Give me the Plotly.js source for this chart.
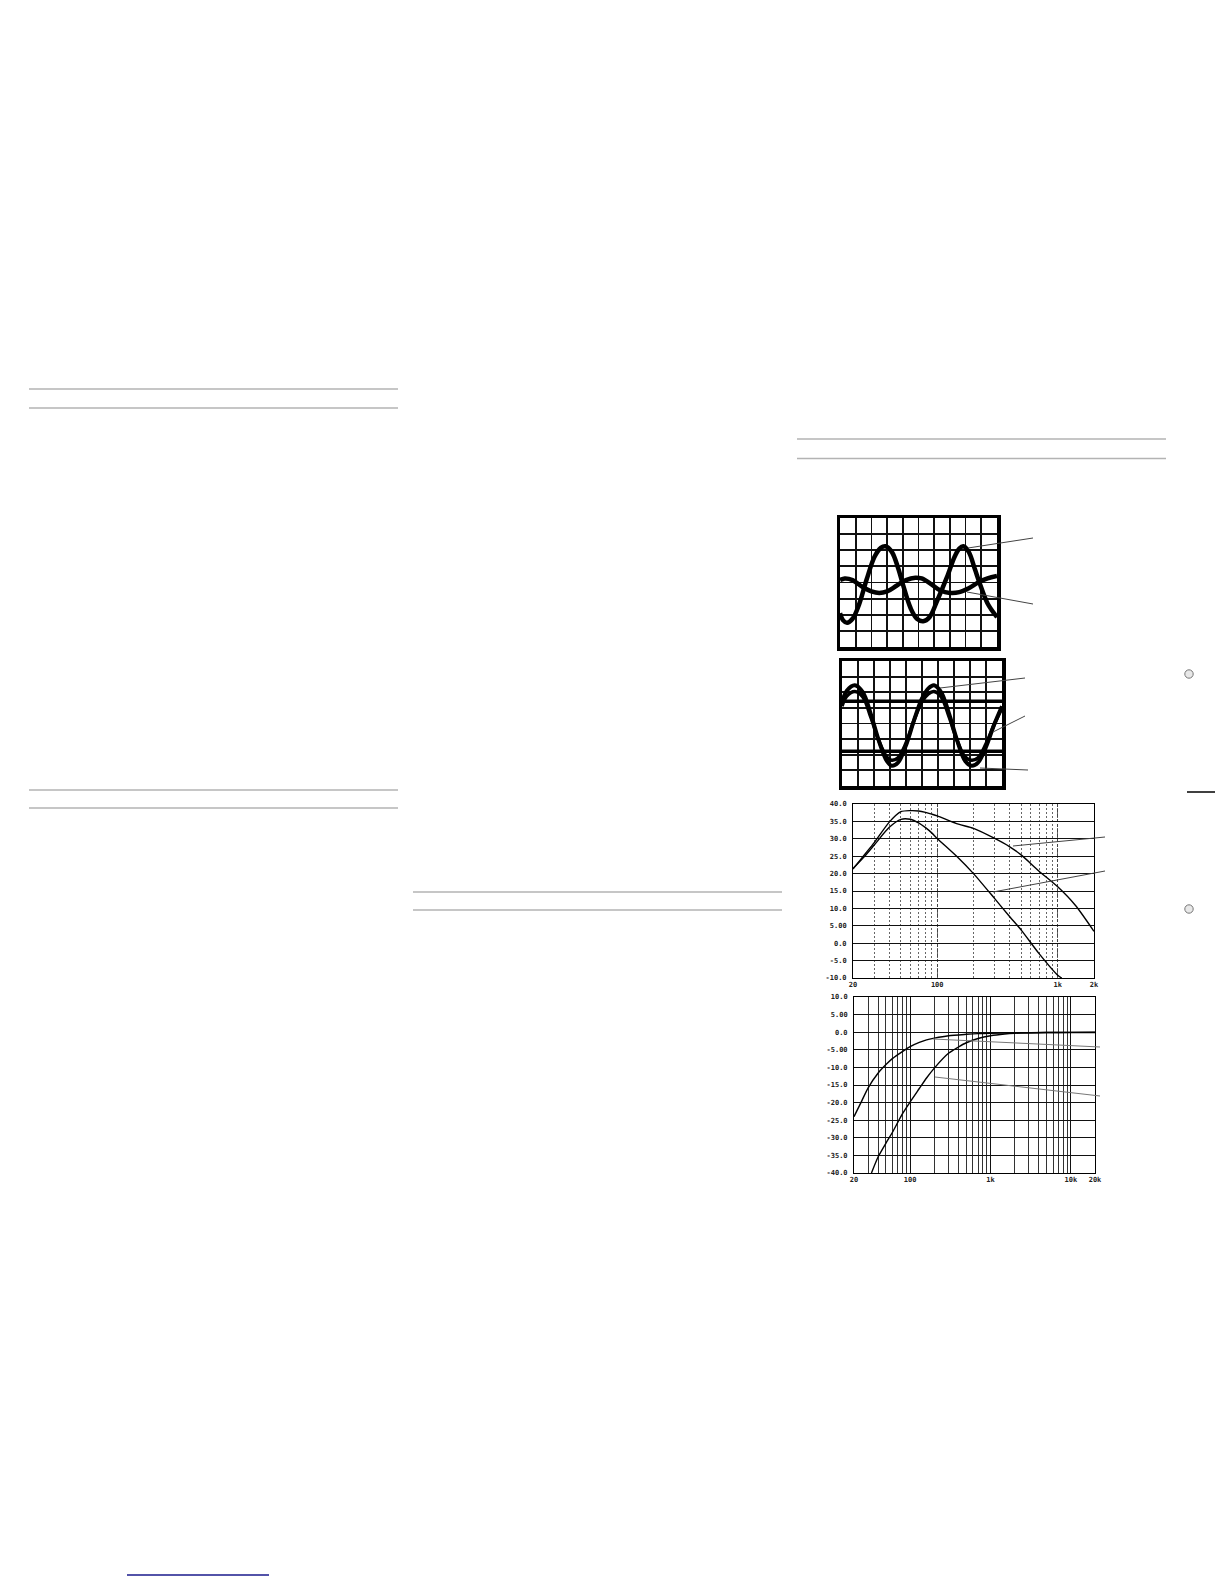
<!DOCTYPE html>
<html>
<head>
<meta charset="utf-8">
<script src="https://cdn.plot.ly/plotly-3.0.1.min.js"></script>
<style>html,body{margin:0;padding:0;background:#fff}#chart{width:1224px;height:1584px}</style>
</head>
<body>
<div id="chart"></div>
<script>
// ---------- Oscilloscope 1 (divisions) ----------
const osc1X = [0,0.2,0.45,0.8,1.2,1.7,2.2,2.6,2.9,3.3,3.7,4.0,4.5,4.9,5.3,5.7,6.2,6.8,7.3,7.6,7.85,8.2,8.6,8.9,9.4,10];
const osc1Big = [2.1,1.65,1.5,1.75,2.6,4.2,5.6,6.15,6.25,5.9,4.9,3.9,2.4,1.75,1.6,1.85,2.9,4.3,5.6,6.1,6.25,5.9,4.8,3.95,2.7,1.85];
const osc1SmallX = [0,0.3,0.8,1.4,2.0,2.5,3.0,3.6,4.2,4.8,5.2,5.8,6.4,7.0,7.6,8.2,8.8,9.4,10];
const osc1Small = [4.15,4.25,4.15,3.75,3.45,3.35,3.45,3.8,4.15,4.3,4.25,3.9,3.5,3.35,3.4,3.65,4.0,4.25,4.4];

// ---------- Oscilloscope 2 (divisions) ----------
const osc2X = [0,0.3,0.8,1.3,1.8,2.3,2.8,3.1,3.5,4.0,4.5,5.0,5.4,5.75,6.2,6.7,7.2,7.7,8.1,8.5,9.0,9.5,10];
const osc2A = [5.35,6.1,6.45,6.0,4.6,2.9,1.6,1.3,1.5,2.6,4.2,5.6,6.25,6.45,6.0,4.6,2.9,1.6,1.3,1.5,2.5,3.9,5.1];
const osc2B = [5.1,5.75,6.05,5.7,4.4,2.9,1.85,1.65,1.8,2.75,4.2,5.4,5.9,6.05,5.7,4.4,2.9,1.85,1.65,1.8,2.7,3.9,5.0];
const osc2LevelX = [0,10];
const osc2High = [5.42,5.42];
const osc2Low = [2.23,2.23];

// ---------- Frequency response 1 (Hz, dB) ----------
const fr1FreqU = [20,25,30,40,50,60,70,80,90,100,150,200,300,400,500,700,1000,1400,2000];
const fr1Upper = [21.3,25.5,28.9,34.8,37.8,38.1,38.0,37.6,37.1,36.6,34.2,33.0,30.1,27.7,25.3,20.7,16.2,10.9,3.4];
const fr1FreqL = [20,25,30,40,50,60,70,80,90,100,150,200,300,400,500,700,1000,1080];
const fr1Lower = [21.5,25.0,28.2,33.3,35.6,35.6,34.6,33.2,31.7,30.1,24.5,20.0,12.8,7.6,3.7,-3.0,-9.2,-10.0];
const fr1YTicks = [40,35,30,25,20,15,10,5,0,-5,-10];
const fr1YText = ["40.0","35.0","30.0","25.0","20.0","15.0","10.0","5.00","0.0","-5.0","-10.0"];
const fr1XTicks = [20,100,1000,2000];
const fr1XText = ["20","100","1k","2k"];

// ---------- Frequency response 2 (Hz, dB) ----------
const fr2FreqA = [20,25,30,40,50,60,80,100,130,160,200,300,500,700,1000,2000,5000,10000,20000];
const fr2A = [-24.0,-19.5,-15.8,-11.6,-9.2,-7.5,-5.5,-4.1,-2.9,-2.2,-1.7,-1.0,-0.6,-0.4,-0.3,-0.2,-0.1,-0.1,-0.1];
const fr2FreqB = [33,40,50,60,80,100,130,160,200,300,400,500,700,1000,1500,2000,5000,10000,20000];
const fr2B = [-40,-35.4,-31.5,-28.5,-23.2,-19.8,-16.0,-13.0,-10.2,-6.0,-4.2,-3.0,-1.8,-1.0,-0.5,-0.3,-0.1,-0.05,0];
const fr2YTicks = [10,5,0,-5,-10,-15,-20,-25,-30,-35,-40];
const fr2YText = ["10.0","5.00","0.0","-5.00","-10.0","-15.0","-20.0","-25.0","-30.0","-35.0","-40.0"];
const fr2XTicks = [20,100,1000,10000,20000];
const fr2XText = ["20","100","1k","10k","20k"];

// ---------- helpers ----------
const W = 1224, H = 1584;
const px = x => x / W;
const py = y => 1 - y / H;
const dom = (a, b) => [px(a), px(b)];
const domY = (top, bot) => [py(bot), py(top)];
function decadeMultiples(lo, hi) {
  const out = [];
  for (let d = 10; d <= hi; d *= 10) for (let m = 1; m <= 9; m++) { const v = m * d; if (v > lo && v < hi) out.push(v); }
  return out;
}

const tickFont = {family: 'DejaVu Sans Mono', size: 7, color: '#222', weight: 'bold'};
const oscAxis = (range, domain, anchor) => ({
  domain, range, anchor, dtick: 1, tick0: 0, showgrid: true, gridcolor: '#111', gridwidth: 1.8,
  zeroline: false, showticklabels: false, ticks: '', showline: true, mirror: true, linecolor: '#000', linewidth: 3.5, fixedrange: true
});

const traces = [
  {x: osc1X, y: osc1Big, xaxis: 'x', yaxis: 'y', mode: 'lines', line: {color: '#000', width: 4.5, shape: 'spline'}},
  {x: osc1SmallX, y: osc1Small, xaxis: 'x', yaxis: 'y', mode: 'lines', line: {color: '#000', width: 4.5, shape: 'spline'}},
  {x: osc2X, y: osc2A, xaxis: 'x2', yaxis: 'y2', mode: 'lines', line: {color: '#000', width: 4, shape: 'spline'}},
  {x: osc2X, y: osc2B, xaxis: 'x2', yaxis: 'y2', mode: 'lines', line: {color: '#000', width: 3.5, shape: 'spline'}},
  {x: osc2LevelX, y: osc2High, xaxis: 'x2', yaxis: 'y2', mode: 'lines', line: {color: '#000', width: 3.5}},
  {x: osc2LevelX, y: osc2Low, xaxis: 'x2', yaxis: 'y2', mode: 'lines', line: {color: '#000', width: 3.5}},
  {x: fr1FreqU, y: fr1Upper, xaxis: 'x3', yaxis: 'y3', mode: 'lines', line: {color: '#000', width: 1.4, shape: 'spline', smoothing: 0.7}},
  {x: fr1FreqL, y: fr1Lower, xaxis: 'x3', yaxis: 'y3', mode: 'lines', line: {color: '#000', width: 1.4, shape: 'spline', smoothing: 0.7}},
  {x: fr2FreqA, y: fr2A, xaxis: 'x4', yaxis: 'y4', mode: 'lines', line: {color: '#000', width: 1.4, shape: 'spline', smoothing: 0.7}},
  {x: fr2FreqB, y: fr2B, xaxis: 'x4', yaxis: 'y4', mode: 'lines', line: {color: '#000', width: 1.4, shape: 'spline', smoothing: 0.7}}
];

const grayRule = (x0, x1, y) => ({type: 'line', xref: 'paper', yref: 'paper', x0: px(x0), x1: px(x1), y0: py(y), y1: py(y), line: {color: '#b3b3b3', width: 1.5}});
const leader = (x0, y0, x1, y1, c) => ({type: 'line', xref: 'paper', yref: 'paper', x0: px(x0), y0: py(y0), x1: px(x1), y1: py(y1), line: {color: c || '#444', width: 1}});
const ring = (cx, cy, r) => ({type: 'circle', xref: 'paper', yref: 'paper', x0: px(cx - r), x1: px(cx + r), y0: py(cy + r), y1: py(cy - r), line: {color: '#777', width: 1}, fillcolor: '#e8e8e8'});

const shapes = [
  grayRule(29, 398, 389), grayRule(29, 398, 408),
  grayRule(29, 398, 790), grayRule(29, 398, 808),
  grayRule(413, 782, 892), grayRule(413, 782, 910),
  grayRule(797, 1166, 439), grayRule(797, 1166, 458.5),
  leader(968, 548, 1033, 538), leader(967, 592, 1033, 604),
  leader(940, 688, 1025, 678), leader(993, 732, 1025, 716), leader(980, 768, 1028, 770),
  leader(1013, 846, 1105, 837), leader(993, 892, 1105, 871),
  leader(933, 1039, 1100, 1047, '#777'), leader(935, 1077, 1100, 1096, '#777'),
  ring(1189, 674, 4.2), ring(1189, 909, 4.2),
  {type: 'line', xref: 'paper', yref: 'paper', x0: px(1187), x1: px(1215), y0: py(792), y1: py(792), line: {color: '#000', width: 1.5}},
  {type: 'line', xref: 'paper', yref: 'paper', x0: px(127), x1: px(269), y0: py(1575), y1: py(1575), line: {color: '#1a1a8c', width: 1.5}}
];

const layout = {
  width: W, height: H, margin: {l: 0, r: 0, t: 0, b: 0},
  paper_bgcolor: '#fff', plot_bgcolor: '#fff', showlegend: false,
  xaxis: oscAxis([0, 10], dom(840, 997), 'y'),
  yaxis: oscAxis([0, 8], domY(518, 647), 'x'),
  xaxis2: oscAxis([0, 10], dom(842, 1002), 'y2'),
  yaxis2: oscAxis([0, 8], domY(661, 786), 'x2'),
  xaxis3: {
    domain: dom(853, 1094), anchor: 'y3', type: 'log', range: [Math.log10(20), Math.log10(2000)],
    tickmode: 'array', tickvals: fr1XTicks, ticktext: fr1XText, tickfont: tickFont, ticks: '',
    showgrid: true, gridcolor: '#444', gridwidth: 1, griddash: '3px,2px',
    minor: {tickmode: 'array', tickvals: decadeMultiples(20, 2000), showgrid: true, gridcolor: '#666', gridwidth: 1, griddash: '2px,2px', ticks: ''},
    showline: true, mirror: true, linecolor: '#000', linewidth: 1, zeroline: false, fixedrange: true
  },
  yaxis3: {
    domain: domY(804, 978), anchor: 'x3', range: [-10, 40],
    tickmode: 'array', tickvals: fr1YTicks, ticktext: fr1YText, tickfont: tickFont, ticks: '', ticklabelstandoff: 4,
    showgrid: true, gridcolor: '#111', gridwidth: 1, zeroline: false,
    showline: true, mirror: true, linecolor: '#000', linewidth: 1, fixedrange: true
  },
  xaxis4: {
    domain: dom(854, 1095), anchor: 'y4', type: 'log', range: [Math.log10(20), Math.log10(20000)],
    tickmode: 'array', tickvals: fr2XTicks, ticktext: fr2XText, tickfont: tickFont, ticks: '',
    showgrid: true, gridcolor: '#111', gridwidth: 1,
    minor: {tickmode: 'array', tickvals: decadeMultiples(20, 20000), showgrid: true, gridcolor: '#333', gridwidth: 1, ticks: ''},
    showline: true, mirror: true, linecolor: '#000', linewidth: 1, zeroline: false, fixedrange: true
  },
  yaxis4: {
    domain: domY(997, 1173), anchor: 'x4', range: [-40, 10],
    tickmode: 'array', tickvals: fr2YTicks, ticktext: fr2YText, tickfont: tickFont, ticks: '', ticklabelstandoff: 4,
    showgrid: true, gridcolor: '#111', gridwidth: 1, zeroline: false,
    showline: true, mirror: true, linecolor: '#000', linewidth: 1, fixedrange: true
  },
  shapes
};

Plotly.newPlot('chart', traces, layout, {staticPlot: true, displayModeBar: false});
</script>
</body>
</html>
